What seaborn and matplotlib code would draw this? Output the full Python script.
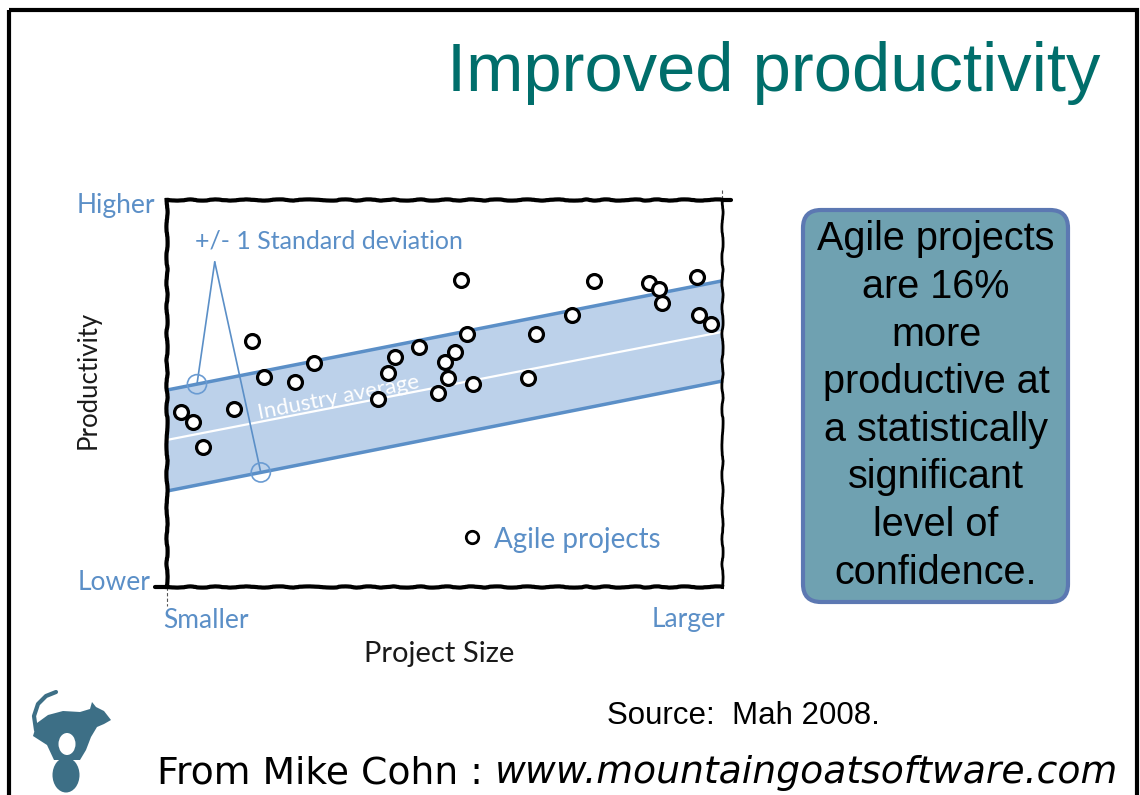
import numpy as np
import pandas as pd
import matplotlib
matplotlib.use('Agg')
import matplotlib.pyplot as plt
import matplotlib.transforms as mtransforms
from matplotlib.patches import FancyBboxPatch, Ellipse, Rectangle, Polygon
import seaborn as sns

# agile projects: project size (x) and productivity (y), both scaled 0..1
size = [0.025, 0.047, 0.065, 0.121, 0.153, 0.175, 0.231, 0.265, 0.380, 0.398,
        0.411, 0.454, 0.488, 0.501, 0.506, 0.519, 0.530, 0.541, 0.551, 0.650,
        0.665, 0.730, 0.769, 0.868, 0.886, 0.892, 0.955, 0.959, 0.980]
productivity = [0.452, 0.426, 0.362, 0.460, 0.636, 0.543, 0.530, 0.579, 0.486, 0.553,
                0.594, 0.620, 0.501, 0.581, 0.540, 0.607, 0.793, 0.654, 0.525, 0.540,
                0.654, 0.703, 0.791, 0.786, 0.770, 0.734, 0.801, 0.703, 0.680]

# industry average trend and +/- 1 standard deviation band
trend_x = [0.0, 1.0]
industry_avg = [0.380, 0.659]
band_upper = [0.509, 0.791]
band_lower = [0.248, 0.532]

# callout for the std deviation label
callout_apex = (0.086, 0.840)
callout_x = [0.054, 0.169]
callout_y = [0.524, 0.296]

box_lines = ["Agile projects", "are 16%", "more", "productive at",
             "a statistically", "significant", "level of", "confidence."]

W, H = 1140, 795
BLUE = '#5b8fc7'
TEAL = '#006e6b'
HAND = 'Lato'

sns.set_style('white')
plt.rcParams['font.family'] = ['DejaVu Sans']
plt.rcParams['text.color'] = 'black'

fig = plt.figure(figsize=(W / 100, H / 100), dpi=100)
fig.patch.set_facecolor('white')

# slide layer in pixel coordinates
slide = fig.add_axes([0, 0, 1, 1])
slide.set_xlim(0, W)
slide.set_ylim(H, 0)
slide.axis('off')

slide.add_patch(Rectangle((9, 10), 1128, 800, fill=False, lw=3, ec='black'))
slide.text(1100, 73, 'Improved productivity', color=TEAL, fontsize=49.5,
           family='Liberation Sans', ha='right', va='center')

# callout box
slide.add_patch(FancyBboxPatch((803, 210), 265, 392,
                               boxstyle='round,pad=0,rounding_size=18',
                               fc='#6fa1b1', ec='#5c78b2', lw=3))
slide.text(936, 406, '\n'.join(box_lines), ha='center', va='center', color='black',
           fontsize=28.5, family='Liberation Sans', linespacing=1.32)

# axis words around the chart
slide.text(155, 206, 'Higher', color=BLUE, fontsize=19, family=HAND, ha='right', va='center')
slide.text(150, 583, 'Lower', color=BLUE, fontsize=19, family=HAND, ha='right', va='center')
slide.text(163, 620, 'Smaller', color=BLUE, fontsize=19, family=HAND, ha='left', va='center')
slide.text(725, 620, 'Larger', color=BLUE, fontsize=19, family=HAND, ha='right', va='center')
slide.text(88, 380, 'Productivity', color='#1a1a1a', fontsize=18.5, family=HAND,
           rotation=90, ha='center', va='center')
slide.text(439, 654, 'Project Size', color='#1a1a1a', fontsize=21, family=HAND,
           ha='center', va='center')

# rough frame overhangs
slide.plot([155, 168], [587, 587], color='black', lw=3)
slide.plot([720, 731], [200, 200], color='black', lw=3)
slide.plot([167, 167], [587, 606], color='#555555', lw=0.8, ls=(0, (3, 2)))
slide.plot([722, 722], [190, 200], color='#555555', lw=0.8, ls=(0, (3, 2)))

slide.text(607, 716, 'Source:  Mah 2008.', fontsize=22.5, family='Liberation Sans',
           ha='left', va='center', color='black')
t1 = slide.text(157, 773, 'From Mike Cohn : ', fontsize=27.2, ha='left', va='center',
                color='black')
fig.canvas.draw()
bb = t1.get_window_extent()
slide.text(bb.x1, 773, 'www.mountaingoatsoftware.com', fontsize=27.2, style='italic',
           ha='left', va='center', color='black',
           transform=mtransforms.blended_transform_factory(
               mtransforms.IdentityTransform(), slide.transData))

# rough goat logo
GOAT = '#3d6f86'
slide.add_patch(Polygon([[33, 736], [37, 723], [48, 715], [63, 711], [80, 712],
                         [90, 709], [92, 702], [96, 707], [104, 711], [111, 720],
                         [104, 724], [97, 727], [91, 737], [86, 750], [80, 760],
                         [54, 760], [47, 745]], fc=GOAT, ec='none'))
slide.add_patch(Ellipse((67, 744), 17, 22, fc='white', ec='none'))
slide.add_patch(Ellipse((66, 775), 27, 35, fc=GOAT, ec='none'))
slide.plot([36, 34, 38, 46, 56], [730, 716, 704, 696, 692], color=GOAT, lw=3,
           solid_capstyle='round')

# chart area
ax = fig.add_axes([167 / W, 1 - 587 / H, 555 / W, 387 / H])
ax.set_xlim(0, 1)
ax.set_ylim(0, 1)
ax.fill_between(trend_x, band_lower, band_upper, color='#bcd1ea', lw=0, zorder=1)
sns.lineplot(x=trend_x, y=band_upper, ax=ax, color=BLUE, lw=2.5, zorder=2)
sns.lineplot(x=trend_x, y=band_lower, ax=ax, color=BLUE, lw=2.5, zorder=2)
sns.lineplot(x=trend_x, y=industry_avg, ax=ax, color='white', lw=1.6, zorder=2)

ax.text(0.31, 0.49, 'Industry average', color='white', fontsize=16, family=HAND,
        rotation=11, ha='center', va='center', rotation_mode='anchor', zorder=3)

# std dev callout
for cx, cy in zip(callout_x, callout_y):
    ax.plot([callout_apex[0], cx], [callout_apex[1], cy], color=BLUE, lw=1.2, zorder=3)
    ax.scatter([cx], [cy], s=190, facecolor='none', edgecolor='#6a9bd2', lw=1.2, zorder=3)
ax.text(0.050, 0.894, '+/- 1 Standard deviation', color=BLUE, fontsize=18, family=HAND,
        ha='left', va='center')

df = pd.DataFrame({'size': size, 'productivity': productivity})
sns.scatterplot(data=df, x='size', y='productivity', ax=ax, s=100, color='white',
                edgecolor='black', linewidth=2.3, zorder=4)

# legend entry drawn by hand
ax.scatter([0.550], [0.129], s=80, color='white', edgecolor='black', lw=2, zorder=4)
ax.text(0.589, 0.121, 'Agile projects', color=BLUE, fontsize=20, family=HAND,
        ha='left', va='center')

ax.set_xticks([])
ax.set_yticks([])
ax.set_xlabel('')
ax.set_ylabel('')
for side, sp in ax.spines.items():
    sp.set_visible(True)
    sp.set_color('black')
    sp.set_linewidth(3 if side != 'right' else 2)
    sp.set_sketch_params(scale=0.6, length=40, randomness=4)

fig.savefig('out.png', dpi=100, facecolor='white')
